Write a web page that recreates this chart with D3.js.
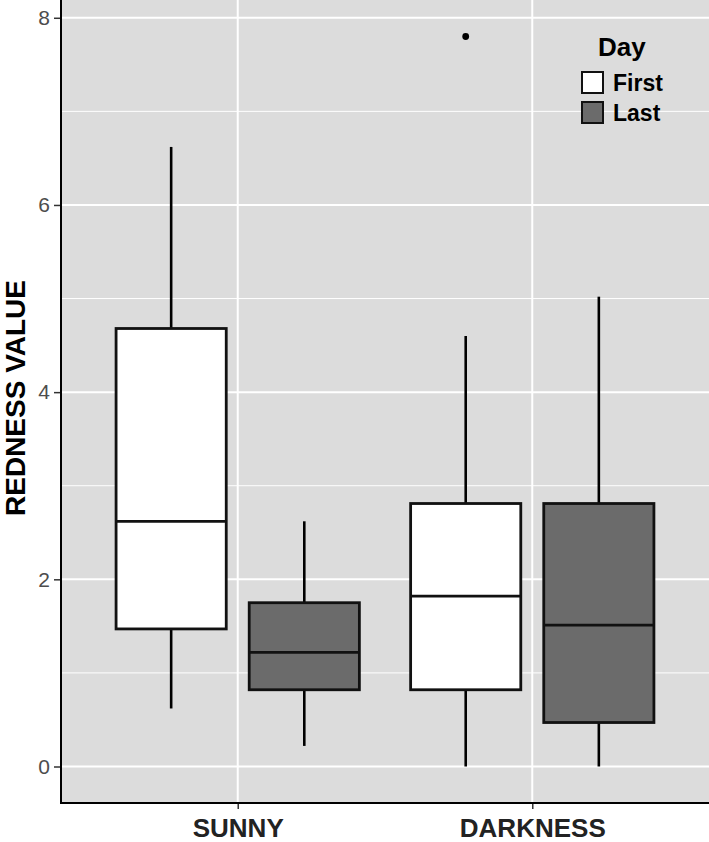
<!DOCTYPE html>
<html>
<head>
<meta charset="utf-8">
<script src="https://cdn.jsdelivr.net/npm/d3@7"></script>
<style>
body { margin: 0; background: #fff; }
text { font-family: "Liberation Sans", Arial, sans-serif; }
</style>
</head>
<body>
<div id="chart"></div>
<script>
// data
var treatments = ["SUNNY", "DARKNESS"];
var days = ["First", "Last"];
var dayFill = ["#ffffff", "#6b6b6b"];
// one entry per treatment, [First, Last]
var whiskerLow = [[0.62, 0.22], [0.0, 0.0]];
var lowerQ = [[1.47, 0.82], [0.82, 0.47]];
var medians = [[2.62, 1.22], [1.82, 1.51]];
var upperQ = [[4.68, 1.75], [2.81, 2.81]];
var whiskerHigh = [[6.62, 2.62], [4.60, 5.02]];
var outliers = [{t: "DARKNESS", d: 0, v: 7.80}];
var yTicks = [0, 2, 4, 6, 8];
var yMinor = [1, 3, 5, 7];

var W = 709, H = 842;
var margin = {top: 0, right: 0, bottom: 39, left: 61};
var width = W - margin.left - margin.right;
var height = H - margin.top - margin.bottom;

var svg = d3.select("#chart").append("svg")
  .attr("width", W).attr("height", H);
var g = svg.append("g")
  .attr("transform", "translate(" + margin.left + "," + margin.top + ")");

var x = d3.scalePoint().domain(treatments).range([0, width]).padding(0.6);
var y = d3.scaleLinear().domain([-0.39, 8.19]).range([height, 0]);
var step = x.step();
var dodge = 0.226 * step;
var boxW = 0.374 * step;

// panel
g.append("rect").attr("width", width).attr("height", height).attr("fill", "#dcdcdc");

// grid
g.selectAll(".minor").data(yMinor).enter().append("line")
  .attr("x1", 0).attr("x2", width)
  .attr("y1", function(d){ return y(d); }).attr("y2", function(d){ return y(d); })
  .attr("stroke", "#fff").attr("stroke-width", 1);
g.selectAll(".major").data(yTicks).enter().append("line")
  .attr("x1", 0).attr("x2", width)
  .attr("y1", function(d){ return y(d); }).attr("y2", function(d){ return y(d); })
  .attr("stroke", "#fff").attr("stroke-width", 2);
g.selectAll(".vgrid").data(treatments).enter().append("line")
  .attr("x1", function(d){ return x(d); }).attr("x2", function(d){ return x(d); })
  .attr("y1", 0).attr("y2", height)
  .attr("stroke", "#fff").attr("stroke-width", 2);

// boxes
var boxes = [];
treatments.forEach(function(t, i) {
  days.forEach(function(dname, j) {
    boxes.push({t: t, j: j, lo: whiskerLow[i][j], q1: lowerQ[i][j], med: medians[i][j],
      q3: upperQ[i][j], hi: whiskerHigh[i][j]});
  });
});
function cx(t, j) { return x(t) + (j === 0 ? -dodge : dodge); }

var bg = g.selectAll(".box").data(boxes).enter().append("g");
bg.append("line")
  .attr("x1", function(d){ return cx(d.t, d.j); }).attr("x2", function(d){ return cx(d.t, d.j); })
  .attr("y1", function(d){ return y(d.hi); }).attr("y2", function(d){ return y(d.q3); })
  .attr("stroke", "#000").attr("stroke-width", 2.6);
bg.append("line")
  .attr("x1", function(d){ return cx(d.t, d.j); }).attr("x2", function(d){ return cx(d.t, d.j); })
  .attr("y1", function(d){ return y(d.q1); }).attr("y2", function(d){ return y(d.lo); })
  .attr("stroke", "#000").attr("stroke-width", 2.6);
bg.append("rect")
  .attr("x", function(d){ return cx(d.t, d.j) - boxW / 2; })
  .attr("width", boxW)
  .attr("y", function(d){ return y(d.q3); })
  .attr("height", function(d){ return y(d.q1) - y(d.q3); })
  .attr("fill", function(d){ return dayFill[d.j]; })
  .attr("stroke", "#111").attr("stroke-width", 2.8);
bg.append("line")
  .attr("x1", function(d){ return cx(d.t, d.j) - boxW / 2; })
  .attr("x2", function(d){ return cx(d.t, d.j) + boxW / 2; })
  .attr("y1", function(d){ return y(d.med); }).attr("y2", function(d){ return y(d.med); })
  .attr("stroke", "#111").attr("stroke-width", 2.8);

g.selectAll(".out").data(outliers).enter().append("circle")
  .attr("cx", function(d){ return cx(d.t, d.d); })
  .attr("cy", function(d){ return y(d.v); })
  .attr("r", 3.4).attr("fill", "#000");

// axes
var yAxis = g.append("g").call(d3.axisLeft(y).tickValues(yTicks).tickSize(7).tickPadding(4));
yAxis.select(".domain").remove();
yAxis.selectAll(".tick line").attr("stroke", "#333").attr("stroke-width", 1.5);
yAxis.selectAll(".tick text").attr("font-size", 21).attr("fill", "#4d4d4d")
  .style("font-family", "'Liberation Sans', Arial, sans-serif");

var xAxis = g.append("g").attr("transform", "translate(0," + height + ")")
  .call(d3.axisBottom(x).tickSize(6));
xAxis.select(".domain").remove();
xAxis.selectAll(".tick line").attr("stroke", "#333").attr("stroke-width", 1.5);
xAxis.selectAll(".tick text").attr("font-size", 26).attr("font-weight", "bold").attr("fill", "#222")
  .attr("y", 34).attr("dy", 0)
  .style("font-family", "'Liberation Sans', Arial, sans-serif");

g.append("line").attr("x1", 0).attr("x2", 0).attr("y1", 0).attr("y2", height + 1)
  .attr("stroke", "#000").attr("stroke-width", 2);
g.append("line").attr("x1", -1).attr("x2", width).attr("y1", height).attr("y2", height)
  .attr("stroke", "#000").attr("stroke-width", 2);

svg.append("text")
  .attr("transform", "translate(25," + (margin.top + 398) + ") rotate(-90)")
  .attr("text-anchor", "middle")
  .attr("font-size", 28).attr("font-weight", "bold").attr("fill", "#000")
  .text("REDNESS VALUE");

// legend
var leg = svg.append("g").attr("transform", "translate(581,0)");
leg.append("text").attr("x", 17).attr("y", 56).attr("font-size", 26).attr("font-weight", "bold")
  .text("Day");
days.forEach(function(dname, j) {
  leg.append("rect").attr("x", 1).attr("y", 72 + j * 30).attr("width", 21).attr("height", 21)
    .attr("fill", dayFill[j]).attr("stroke", "#111").attr("stroke-width", 2);
  leg.append("text").attr("x", 32).attr("y", 91 + j * 30).attr("font-size", 23)
    .attr("font-weight", "bold").text(dname);
});
</script>
</body>
</html>
